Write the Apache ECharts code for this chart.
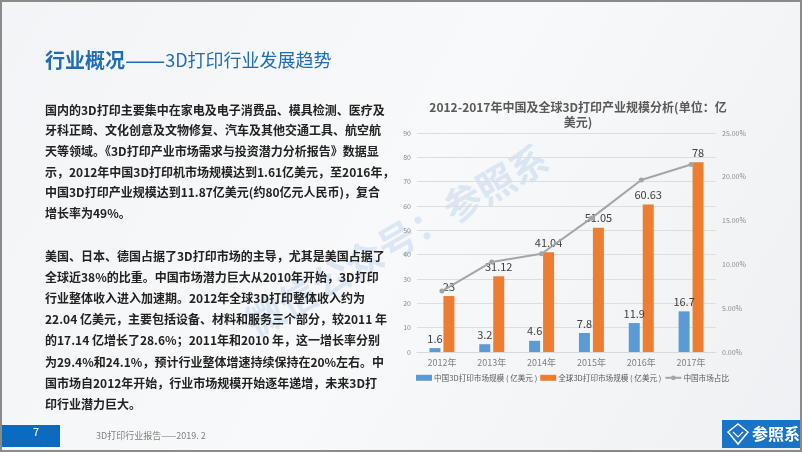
<!DOCTYPE html>
<html><head><meta charset="utf-8">
<script src="https://cdn.jsdelivr.net/npm/echarts@6/dist/echarts.min.js"></script>
<style>html,body{margin:0;padding:0;background:#f5f6f8}#c{width:802px;height:452px}</style>
</head><body><div id="c"></div>
<script>
const categories = ['2012年','2013年','2014年','2015年','2016年','2017年'];
const chinaMarket = [1.6, 3.2, 4.6, 7.8, 11.9, 16.7];
const globalMarket = [23, 31.12, 41.04, 51.05, 60.63, 78];
const chinaShare = [0.0696, 0.1028, 0.1121, 0.1528, 0.1963, 0.2141];
const seriesNames = ['中国3D打印市场规模 ( 亿美元 )', '全球3D打印市场规模 ( 亿美元 )', '中国市场占比'];
const chartTitle = '2012-2017年中国及全球3D打印产业规模分析(单位：亿\n美元)';
const para1 = [
 '国内的3D打印主要集中在家电及电子消费品、模具检测、医疗及',
 '牙科正畸、文化创意及文物修复、汽车及其他交通工具、航空航',
 '天等领域。《3D打印产业市场需求与投资潜力分析报告》数据显',
 '示，2012年中国3D打印机市场规模达到1.61亿美元，至2016年，',
 '中国3D打印产业规模达到11.87亿美元(约80亿元人民币)，复合',
 '增长率为49%。'
];
const para2 = [
 '美国、日本、德国占据了3D打印市场的主导，尤其是美国占据了',
 '全球近38%的比重。中国市场潜力巨大从2010年开始，3D打印',
 '行业整体收入进入加速期。2012年全球3D打印整体收入约为',
 '22.04 亿美元，主要包括设备、材料和服务三个部分，较2011 年',
 '的17.14 亿增长了28.6%；2011年和2010 年，这一增长率分别',
 '为29.4%和24.1%，预计行业整体增速持续保持在20%左右。中',
 '国市场自2012年开始，行业市场规模开始逐年递增，未来3D打',
 '印行业潜力巨大。'
];

const FONT = '"Noto Sans CJK SC","Noto Sans",sans-serif';
const chart = echarts.init(document.getElementById('c'), null, {renderer:'canvas'});

const graphics = [];
graphics.push({type:'rect', z:-10, shape:{x:0,y:0,width:802,height:452},
  style:{fill:new echarts.graphic.LinearGradient(0,0,1,1,[{offset:0,color:'#f3f4f7'},{offset:0.5,color:'#f8f9fa'},{offset:1,color:'#eef0f3'}])}});
graphics.push({type:'text', z:-5, x:545, y:155, rotation:30*Math.PI/180,
  style:{text:'微信公众号：参照系', font:'bold 38px '+FONT, fill:'rgba(90,150,215,0.18)', align:'right', verticalAlign:'middle'}});
graphics.push({type:'text', x:45, y:60, style:{
  text:'{a|行业概况}{c|——}{b|3D打印行业发展趋势}', verticalAlign:'middle',
  rich:{a:{fontSize:20,fontWeight:'bold',fill:'#1f6db4',fontFamily:FONT},
        c:{fontSize:24,fill:'#1f6db4',fontFamily:FONT},
        b:{fontSize:18,fill:'#1f6db4',fontFamily:FONT}}}});
para1.forEach((t,i)=>graphics.push({type:'text', x:45, y:110+i*20.7,
  style:{text:t, font:'bold 12px '+FONT, fill:'#222', verticalAlign:'middle'}}));
para2.forEach((t,i)=>graphics.push({type:'text', x:45, y:256+i*21.2,
  style:{text:t, font:'bold 12px '+FONT, fill:'#222', verticalAlign:'middle'}}));
graphics.push({type:'rect', shape:{x:0,y:425,width:60,height:22}, style:{fill:'#0b6cbf'}});
graphics.push({type:'text', x:36, y:432, style:{text:'7', font:'11px '+FONT, fill:'#fff', align:'center', verticalAlign:'middle'}});
graphics.push({type:'text', x:96, y:436, style:{text:'3D打印行业报告——2019. 2', font:'9px '+FONT, fill:'#7f7f7f', verticalAlign:'middle'}});
graphics.push({type:'rect', shape:{x:722,y:420,width:80,height:28}, style:{fill:'#1a74c6'}});
graphics.push({type:'polygon', shape:{points:[[738,424],[748,432],[738,444],[728,432]]}, style:{fill:'none',stroke:'#fff',lineWidth:1.5}});
graphics.push({type:'polyline', shape:{points:[[733,432],[738,437],[743,432]]}, style:{stroke:'#fff',lineWidth:1.2}});
graphics.push({type:'text', x:752, y:434, style:{text:'参照系', font:'bold 16px '+FONT, fill:'#fff', verticalAlign:'middle'}});
graphics.push({type:'rect', z:100, shape:{x:1,y:1,width:800,height:450}, style:{fill:'none',stroke:'#8a8a8a',lineWidth:2}});

const labelStyle = {show:true, position:'top', fontSize:11, color:'#404040', fontFamily:FONT, distance:4};

chart.setOption({
  animation:false,
  textStyle:{fontFamily:FONT},
  graphic:graphics,
  title:{text:chartTitle, left:573, top:95, textAlign:'center',
    textStyle:{fontSize:12, fontWeight:'bold', color:'#595959', lineHeight:15, fontFamily:FONT}},
  grid:{left:417, right:86, top:133, bottom:100},
  legend:{left:416, top:374, itemWidth:16, itemHeight:6, itemGap:3, padding:0,
    textStyle:{fontSize:7.6, color:'#595959', padding:[0,0,0,-3]},
    data:[{name:seriesNames[0], icon:'rect'},{name:seriesNames[1], icon:'rect'},{name:seriesNames[2]}]},
  xAxis:{type:'category', data:categories,
    axisLine:{lineStyle:{color:'#d9d9d9'}}, axisTick:{show:false},
    axisLabel:{fontSize:9, color:'#7f7f7f', margin:6}},
  yAxis:[
    {type:'value', min:0, max:90, interval:10,
     axisLabel:{fontSize:7, color:'#8c8c8c', margin:6},
     splitLine:{lineStyle:{color:'#dedede'}}, axisLine:{show:false}, axisTick:{show:false}},
    {type:'value', min:0, max:0.25, interval:0.05,
     axisLabel:{fontSize:7, color:'#8c8c8c', margin:6, formatter:v=>(v*100).toFixed(2)+'%'},
     splitLine:{show:false}, axisLine:{show:false}, axisTick:{show:false}}
  ],
  series:[
    {name:seriesNames[0], type:'bar', data:chinaMarket, barWidth:11, barGap:'27%',
     itemStyle:{color:'#5b9bd5'}, label:labelStyle},
    {name:seriesNames[1], type:'bar', data:globalMarket, barWidth:11,
     itemStyle:{color:'#ed7d31'}, label:labelStyle},
    {name:seriesNames[2], type:'line', yAxisIndex:1, data:chinaShare,
     symbol:'circle', symbolSize:5, itemStyle:{color:'#a5a5a5'}, lineStyle:{color:'#a5a5a5', width:2}}
  ]
});
</script></body></html>
